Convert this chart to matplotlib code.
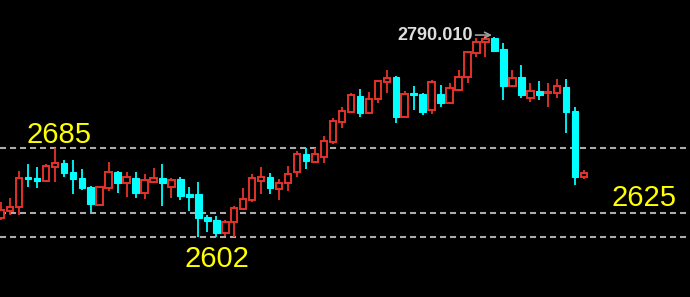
import matplotlib
matplotlib.use("Agg")
import matplotlib.pyplot as plt
from matplotlib.patches import Rectangle

# OHLC, one candle per bar
opens = [2620.0, 2626.8, 2630.3, 2657.3, 2657.3, 2654.5, 2667.6, 2671.3, 2662.9, 2657.3,
         2648.9, 2632.1, 2648.3, 2662.9, 2652.4, 2657.3, 2643.6, 2653.6, 2657.0, 2649.2,
         2656.4, 2642.4, 2642.4, 2621.0, 2618.2, 2605.8, 2616.6, 2628.4, 2636.8, 2654.8,
         2658.5, 2646.8, 2652.4, 2662.6, 2679.4, 2671.9, 2677.2, 2691.1, 2709.2, 2719.1,
         2734.0, 2718.2, 2730.7, 2747.1, 2751.2, 2713.7, 2736.8, 2735.3, 2720.7, 2735.3,
         2727.5, 2739.3, 2751.7, 2773.5, 2783.8, 2787.5, 2777.5, 2743.0, 2751.2, 2731.6,
         2738.4, 2736.5, 2736.2, 2742.4, 2720.0, 2658.0]
highs = [2634.9, 2638.9, 2664.1, 2670.4, 2667.6, 2670.4, 2685.0, 2674.1, 2674.1, 2665.7,
         2649.8, 2649.8, 2672.5, 2663.8, 2662.9, 2662.9, 2661.0, 2666.9, 2670.1, 2657.3,
         2658.5, 2648.9, 2653.6, 2622.8, 2622.2, 2618.2, 2631.2, 2647.7, 2661.0, 2667.3,
         2661.7, 2656.1, 2668.5, 2682.5, 2685.0, 2685.0, 2696.5, 2713.5, 2723.2, 2736.8,
         2740.0, 2737.7, 2748.6, 2758.0, 2752.4, 2738.4, 2742.6, 2736.2, 2748.2, 2744.0,
         2745.6, 2758.0, 2775.9, 2788.0, 2790.01, 2789.0, 2782.8, 2758.0, 2762.6, 2745.6,
         2748.0, 2745.6, 2749.3, 2749.3, 2723.2, 2664.8]
lows = [2618.2, 2622.8, 2622.8, 2649.2, 2648.0, 2653.6, 2653.6, 2658.2, 2642.4, 2646.1,
        2625.6, 2630.8, 2645.5, 2643.3, 2639.9, 2638.9, 2637.7, 2653.1, 2631.2, 2638.7,
        2636.8, 2626.5, 2602.6, 2607.3, 2602.0, 2603.2, 2602.6, 2627.5, 2635.2, 2642.4,
        2642.4, 2636.8, 2645.5, 2658.0, 2665.7, 2671.9, 2671.6, 2689.0, 2703.6, 2717.9,
        2713.9, 2717.6, 2727.5, 2736.2, 2708.3, 2713.5, 2720.7, 2716.0, 2716.5, 2723.5,
        2726.0, 2738.7, 2745.6, 2770.4, 2769.8, 2775.0, 2730.0, 2741.8, 2731.6, 2728.4,
        2730.0, 2723.2, 2731.6, 2699.0, 2650.8, 2656.4]
closes = [2627.5, 2630.6, 2657.3, 2656.4, 2654.5, 2668.5, 2671.3, 2661.9, 2656.4, 2648.0,
          2633.1, 2648.9, 2662.6, 2652.4, 2658.5, 2643.6, 2655.4, 2657.0, 2652.4, 2655.4,
          2640.8, 2639.9, 2620.0, 2617.2, 2605.8, 2616.6, 2629.1, 2637.7, 2657.3, 2658.5,
          2647.7, 2652.4, 2661.0, 2679.4, 2673.1, 2679.4, 2692.1, 2710.4, 2720.0, 2734.7,
          2717.6, 2730.9, 2747.7, 2750.8, 2713.7, 2735.3, 2734.7, 2719.1, 2746.8, 2727.5,
          2740.9, 2751.9, 2774.5, 2784.3, 2786.9, 2775.9, 2743.0, 2750.2, 2734.7, 2738.4,
          2734.7, 2737.0, 2743.3, 2719.1, 2658.0, 2661.7]

levels = [2685, 2625, 2602]
level_labels = ["2685", "2625", "2602"]
high_label = "2790.010"

UP = "#e6322a"
DOWN = "#00ffff"

fig = plt.figure(figsize=(6.9, 2.97), dpi=100, facecolor="black")
ax = fig.add_axes([0, 0, 1, 1])
ax.set_facecolor("black")
ax.set_xlim(-0.11, 76.8)
ax.set_ylim(2546.4, 2823.2)
ax.axis("off")

for lv in levels:
    ax.axhline(lv, color="#ababab", lw=1.5, ls=(0, (2.9, 1.9)), zorder=1)

w = 0.72
for i in range(len(opens)):
    o, h, l, c = opens[i], highs[i], lows[i], closes[i]
    top, bot = max(o, c), min(o, c)
    if c >= o:
        ax.vlines(i, top, h, color=UP, lw=1.3, zorder=2)
        ax.vlines(i, l, bot, color=UP, lw=1.3, zorder=2)
        ax.add_patch(Rectangle((i - w / 2, bot), w, max(top - bot, 0.6),
                               facecolor="black", edgecolor=UP, lw=1.4, zorder=3))
    else:
        ax.vlines(i, l, h, color=DOWN, lw=1.3, zorder=2)
        ax.add_patch(Rectangle((i - w / 2, bot), w, max(top - bot, 1.5),
                               facecolor=DOWN, edgecolor=DOWN, lw=0.8, zorder=3))

# yellow level labels
lab_font = dict(color="#ffff00", fontsize=21, family="Liberation Sans", ha="center", va="baseline")
ax.text(0.0862, 0.5195, level_labels[0], transform=ax.transAxes, **lab_font)
ax.text(0.934, 0.306, level_labels[1], transform=ax.transAxes, **lab_font)
ax.text(0.3138, 0.102, level_labels[2], transform=ax.transAxes, **lab_font)

# high marker
ax.text(0.5754, 0.879, high_label, transform=ax.transAxes, color="#dedede",
        fontsize=13, family="Liberation Sans", fontweight="bold", ha="left", va="center")
ax.annotate("", xy=(0.717, 0.882), xytext=(0.685, 0.882), xycoords="axes fraction",
            arrowprops=dict(arrowstyle="->", color="#a0a0a0", lw=1.2))

fig.savefig("out.png", dpi=100, facecolor="black")
